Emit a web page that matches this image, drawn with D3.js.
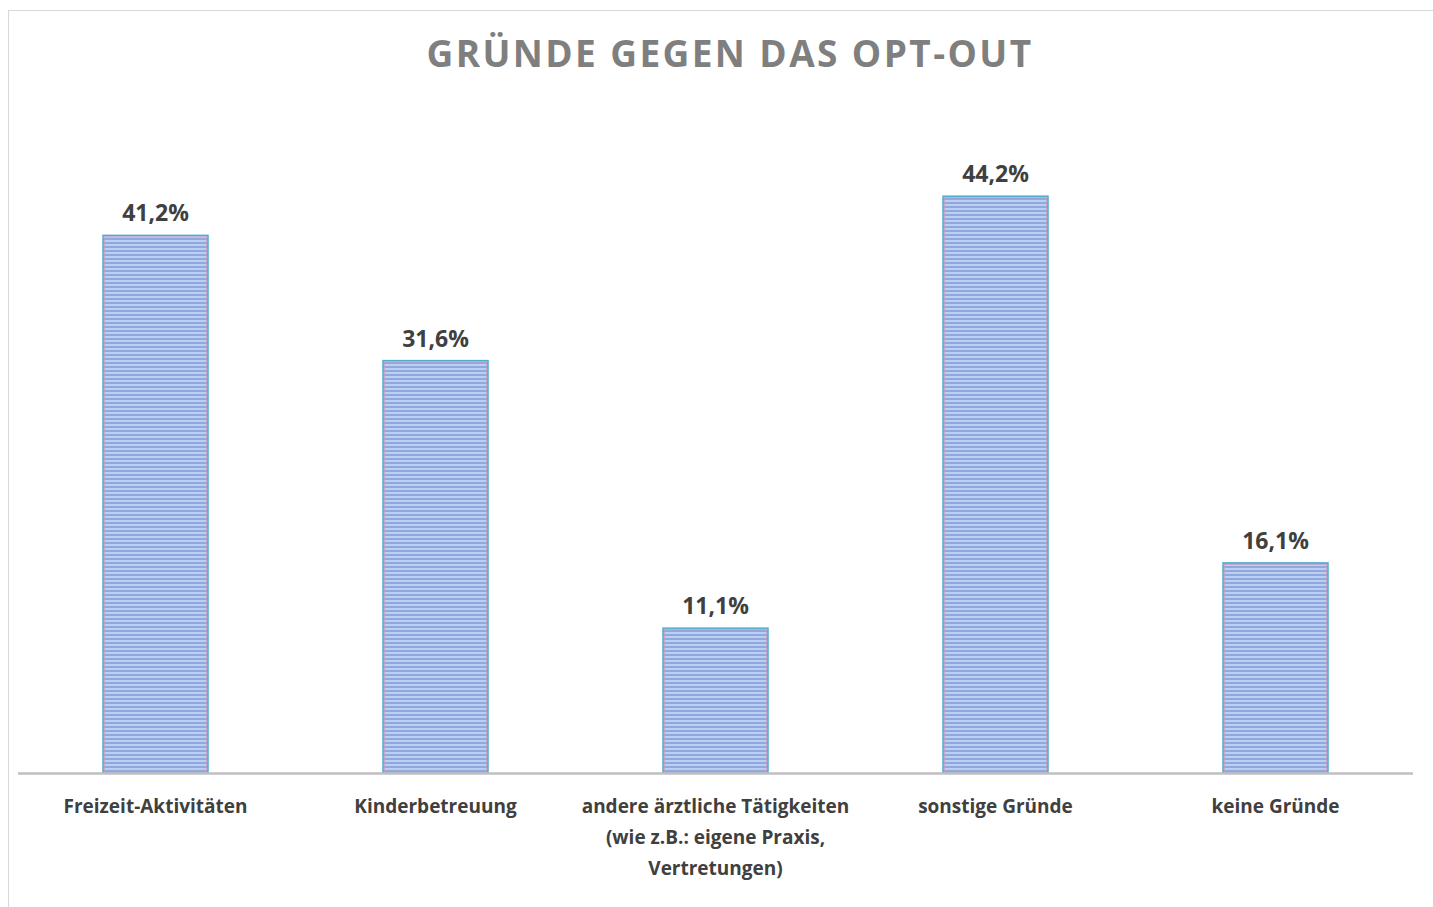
<!DOCTYPE html>
<html><head><meta charset="utf-8">
<script src="https://cdn.jsdelivr.net/npm/d3@7"></script>
<style>body{margin:0;background:#fff}svg{display:block}</style>
</head><body>
<script>
const categories = [
  ["Freizeit-Aktivitäten"],
  ["Kinderbetreuung"],
  ["andere ärztliche Tätigkeiten", "(wie z.B.: eigene Praxis,", "Vertretungen)"],
  ["sonstige Gründe"],
  ["keine Gründe"]
];
const values = [41.2, 31.6, 11.1, 44.2, 16.1];
const valueLabels = ["41,2%", "31,6%", "11,1%", "44,2%", "16,1%"];
const title = "GRÜNDE GEGEN DAS OPT-OUT";

const W = 1433, H = 907;
const svg = d3.select("body").append("svg").attr("width", W).attr("height", H);

const defs = svg.append("defs");
const pat = defs.append("pattern").attr("id", "stripes").attr("patternUnits", "userSpaceOnUse")
  .attr("width", 8).attr("height", 4);
pat.append("rect").attr("width", 8).attr("height", 4).attr("fill", "#bccff0");
pat.append("rect").attr("y", 2).attr("width", 8).attr("height", 2).attr("fill", "#8fa9de");

// chart border
svg.append("rect").attr("x", 8.5).attr("y", 10.5).attr("width", W + 10).attr("height", H + 10)
  .attr("fill", "none").attr("stroke", "#d9d9d9").attr("stroke-width", 1);

const x = d3.scaleBand().domain(d3.range(values.length)).range([15.5, 1415.5]).paddingInner(0.625).paddingOuter(0.3125);
const y = d3.scaleLinear().domain([0, 50]).range([773, 120.5]);

svg.append("text").attr("x", 730).attr("y", 67).attr("text-anchor", "middle")
  .attr("font-family", "Open Sans").attr("font-weight", "bold").attr("font-size", 37)
  .attr("letter-spacing", 2.4).attr("fill", "#7f7f7f").text(title);

const g = svg.append("g");
g.selectAll("rect.bar").data(values).join("rect").attr("class", "bar")
  .attr("x", (d, i) => x(i)).attr("width", x.bandwidth())
  .attr("y", d => y(d)).attr("height", d => y(0) - y(d))
  .attr("fill", "url(#stripes)").attr("stroke", "#4eaecb").attr("stroke-width", 1.5);
g.selectAll("rect.inner").data(values).join("rect").attr("class", "inner")
  .attr("x", (d, i) => x(i) + 1.5).attr("width", x.bandwidth() - 3)
  .attr("y", d => y(d) + 1.5).attr("height", d => y(0) - y(d) - 1.5)
  .attr("fill", "none").attr("stroke", "#c79bc4").attr("stroke-width", 1).attr("opacity", 0.8);

g.selectAll("text.val").data(values).join("text").attr("class", "val")
  .attr("x", (d, i) => x(i) + x.bandwidth() / 2).attr("y", d => y(d) - 14)
  .attr("text-anchor", "middle").attr("font-family", "Open Sans").attr("font-weight", "bold")
  .attr("font-size", 23).attr("fill", "#404040").text((d, i) => valueLabels[i]);

// axis
const axis = svg.append("g").attr("transform", `translate(0,${y(0)})`)
  .call(d3.axisBottom(x).tickSize(0).tickFormat(""));
axis.select(".domain").attr("stroke", "#bfbfbf").attr("stroke-width", 2.5)
  .attr("d", "M18,0.5H1413");

const lab = svg.append("g");
categories.forEach((lines, i) => {
  const t = lab.append("text").attr("x", x(i) + x.bandwidth() / 2).attr("y", 813)
    .attr("text-anchor", "middle").attr("font-family", "Open Sans").attr("font-weight", "bold")
    .attr("font-size", 19).attr("fill", "#404040");
  lines.forEach((l, j) => t.append("tspan").attr("x", x(i) + x.bandwidth() / 2).attr("dy", j ? 31 : 0).text(l));
});
</script>
</body></html>
